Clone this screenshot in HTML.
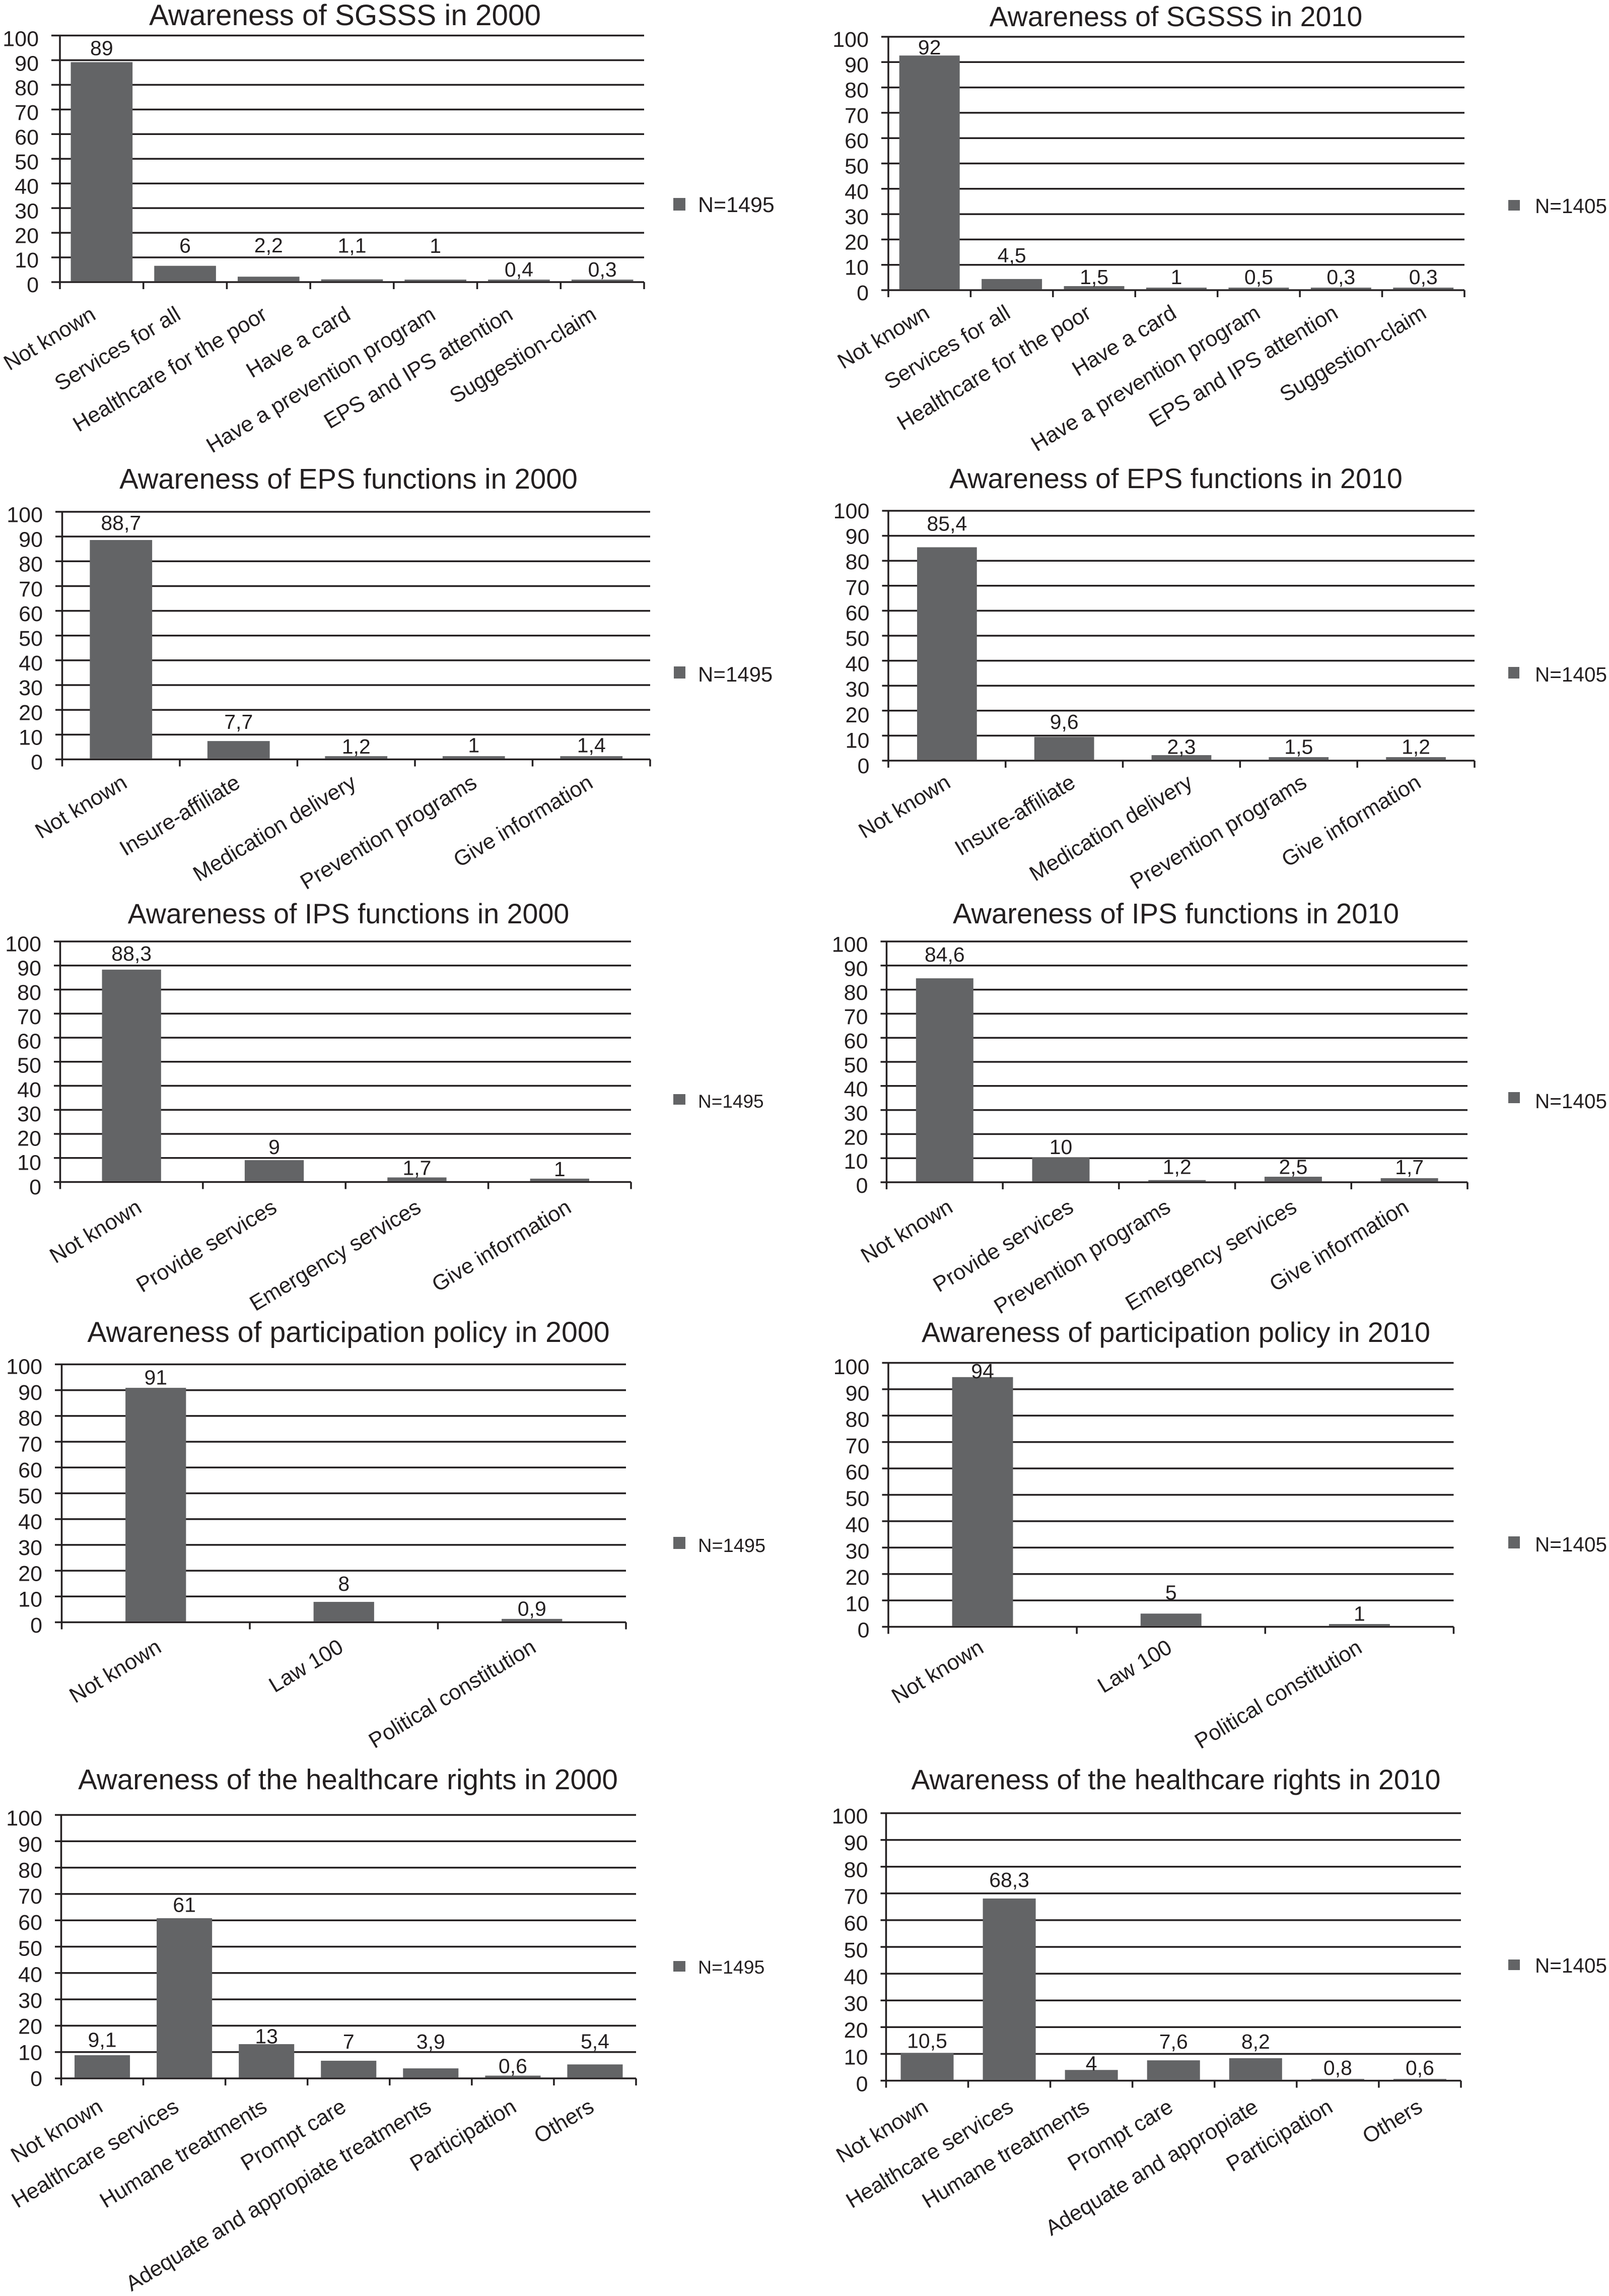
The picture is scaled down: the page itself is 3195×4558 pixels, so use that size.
<!DOCTYPE html>
<html lang="en">
<head>
<meta charset="utf-8">
<title>Awareness charts 2000 and 2010</title>
<style>
html,body{margin:0;padding:0;background:#fff;}
svg{display:block;font-family:"Liberation Sans",Arial,sans-serif;fill:#231f20;}
.title{text-anchor:middle;}
.tick-label{font-size:43px;text-anchor:end;}
.value-label{font-size:41px;text-anchor:middle;}
.category-label{font-size:43px;text-anchor:end;}
.swatch{fill:#636466;}
</style>
</head>
<body>
<svg xmlns="http://www.w3.org/2000/svg" width="3195" height="4558" viewBox="0 0 3195 4558">
<rect x="0" y="0" width="3195" height="4558" fill="#ffffff"></rect>

<g id="c1">
<text class="title" x="685" y="50" font-size="58.4">Awareness of SGSSS in 2000</text>
<rect class="swatch" x="1337" y="393" width="24" height="25"></rect>
<text x="1386" y="421" font-size="43">N=1495</text>
</g>

<g id="c2">
<text class="title" x="2335" y="52" font-size="55.6">Awareness of SGSSS in 2010</text>
<rect class="swatch" x="2995" y="397" width="23" height="21"></rect>
<text x="3048" y="423" font-size="40.5">N=1405</text>
</g>

<g id="c3">
<text class="title" x="692" y="970" font-size="56.3">Awareness of EPS functions in 2000</text>
<rect class="swatch" x="1338" y="1323" width="23" height="24"></rect>
<text x="1386" y="1353" font-size="42">N=1495</text>
</g>

<g id="c4">
<text class="title" x="2335" y="969" font-size="55.7">Awareness of EPS functions in 2010</text>
<rect class="swatch" x="2995" y="1324" width="22" height="23"></rect>
<text x="3048" y="1353" font-size="40.5">N=1405</text>
</g>

<g id="c5">
<text class="title" x="692" y="1833" font-size="55.6">Awareness of IPS functions in 2000</text>
<rect class="swatch" x="1337" y="2172" width="24" height="21"></rect>
<text x="1386" y="2199" font-size="37">N=1495</text>
</g>

<g id="c6">
<text class="title" x="2335" y="1833" font-size="56.2">Awareness of IPS functions in 2010</text>
<rect class="swatch" x="2995" y="2168" width="23" height="22"></rect>
<text x="3048" y="2200" font-size="40.5">N=1405</text>
</g>

<g id="c7">
<text class="title" x="692" y="2664" font-size="57.3">Awareness of participation policy in 2000</text>
<rect class="swatch" x="1337" y="3051" width="24" height="24"></rect>
<text x="1386" y="3081" font-size="38">N=1495</text>
</g>

<g id="c8">
<text class="title" x="2335" y="2664" font-size="55.8">Awareness of participation policy in 2010</text>
<rect class="swatch" x="2995" y="3050" width="23" height="24"></rect>
<text x="3048" y="3080" font-size="40.5">N=1405</text>
</g>

<g id="c9">
<text class="title" x="691" y="3552" font-size="56.6">Awareness of the healthcare rights in 2000</text>
<rect class="swatch" x="1337" y="3893" width="24" height="21"></rect>
<text x="1386" y="3918" font-size="37.5">N=1495</text>
</g>

<g id="c10">
<text class="title" x="2335" y="3552" font-size="55.5">Awareness of the healthcare rights in 2010</text>
<rect class="swatch" x="2995" y="3890" width="23" height="21"></rect>
<text x="3048" y="3916" font-size="40.5">N=1405</text>
</g>
</svg>

<script>
// Shared axis ticks
const yTicks = [0, 10, 20, 30, 40, 50, 60, 70, 80, 90, 100];

const sgsssCategories2000 = ["Not known", "Services for all", "Healthcare for the poor", "Have a card", "Have a prevention program", "EPS and IPS attention", "Suggestion-claim"];
const sgsssValues2000 = [89.2, 6.6, 2.2, 1.1, 1, 1, 1];
const sgsssPrinted2000 = ["89", "6", "2,2", "1,1", "1", "0,4", "0,3"];

const sgsssCategories2010 = ["Not known", "Services for all", "Healthcare for the poor", "Have a card", "Have a prevention program", "EPS and IPS attention", "Suggestion-claim"];
const sgsssValues2010 = [92.6, 4.4, 1.6, 1, 1, 1, 1];
const sgsssPrinted2010 = ["92", "4,5", "1,5", "1", "0,5", "0,3", "0,3"];

const epsCategories2000 = ["Not known", "Insure-affiliate", "Medication delivery", "Prevention programs", "Give information"];
const epsValues2000 = [88.6, 7.4, 1.3, 1.3, 1.3];
const epsPrinted2000 = ["88,7", "7,7", "1,2", "1", "1,4"];

const epsCategories2010 = ["Not known", "Insure-affiliate", "Medication delivery", "Prevention programs", "Give information"];
const epsValues2010 = [85.4, 9.5, 2.2, 1.4, 1.4];
const epsPrinted2010 = ["85,4", "9,6", "2,3", "1,5", "1,2"];

const ipsCategories2000 = ["Not known", "Provide services", "Emergency services", "Give information"];
const ipsValues2000 = [88.3, 9.1, 1.9, 1.4];
const ipsPrinted2000 = ["88,3", "9", "1,7", "1"];

const ipsCategories2010 = ["Not known", "Provide services", "Prevention programs", "Emergency services", "Give information"];
const ipsValues2010 = [84.7, 10.2, 0.9, 2.3, 1.7];
const ipsPrinted2010 = ["84,6", "10", "1,2", "2,5", "1,7"];

const policyCategories2000 = ["Not known", "Law 100", "Political constitution"];
const policyValues2000 = [90.9, 7.9, 1.3];
const policyPrinted2000 = ["91", "8", "0,9"];

const policyCategories2010 = ["Not known", "Law 100", "Political constitution"];
const policyValues2010 = [94.6, 5, 1.05];
const policyPrinted2010 = ["94", "5", "1"];

const rightsCategories2000 = ["Not known", "Healthcare services", "Humane treatments", "Prompt care", "Adequate and appropiate treatments", "Participation", "Others"];
const rightsValues2000 = [8.8, 60.8, 13, 6.7, 3.8, 1.05, 5.3];
const rightsPrinted2000 = ["9,1", "61", "13", "7", "3,9", "0,6", "5,4"];

const rightsCategories2010 = ["Not known", "Healthcare services", "Humane treatments", "Prompt care", "Adequate and appropiate", "Participation", "Others"];
const rightsValues2010 = [10.4, 68.1, 4, 7.6, 8.4, 0.65, 0.65];
const rightsPrinted2010 = ["10,5", "68,3", "4", "7,6", "8,2", "0,8", "0,6"];

const SVG_NS = "http://www.w3.org/2000/svg";
const LINE_COLOR = "#231f20";
const BAR_COLOR = "#636466";
const LINE_WIDTH = 3.5;
const TICK_LENGTH = 14;
const LABEL_ANGLE = -31;
const TICK_TEXT_HALF_HEIGHT = 15;

function drawChart(groupId, categories, values, printed, box) {
  const group = document.getElementById(groupId);
  const y = function (v) { return box.base - (v / 100) * (box.base - box.top); };
  const band = (box.right - box.left) / categories.length;
  const xCenter = function (i) { return box.left + (i + 0.5) * band; };

  yTicks.forEach(function (t) {
    const line = document.createElementNS(SVG_NS, "line");
    line.setAttribute("x1", box.gridLeft);
    line.setAttribute("x2", box.right);
    line.setAttribute("y1", y(t));
    line.setAttribute("y2", y(t));
    line.setAttribute("stroke", LINE_COLOR);
    line.setAttribute("stroke-width", LINE_WIDTH);
    
    
    group.appendChild(line);

    const shift = box.tickShift[0] + (box.tickShift[1] - box.tickShift[0]) * t / 100;
    const label = document.createElementNS(SVG_NS, "text");
    label.setAttribute("class", "tick-label");
    label.setAttribute("x", box.gridLeft - 25);
    label.setAttribute("y", y(t) + shift + TICK_TEXT_HALF_HEIGHT);
    label.textContent = String(t);
    
    
    group.appendChild(label);
  });

  const axis = document.createElementNS(SVG_NS, "line");
  axis.setAttribute("x1", box.left);
  axis.setAttribute("x2", box.left);
  axis.setAttribute("y1", box.top);
  axis.setAttribute("y2", box.base + TICK_LENGTH);
  axis.setAttribute("stroke", LINE_COLOR);
  axis.setAttribute("stroke-width", LINE_WIDTH);
  
  
  group.appendChild(axis);

  for (let i = 1; i <= categories.length; i++) {
    const tick = document.createElementNS(SVG_NS, "line");
    tick.setAttribute("x1", box.left + i * band);
    tick.setAttribute("x2", box.left + i * band);
    tick.setAttribute("y1", box.base);
    tick.setAttribute("y2", box.base + TICK_LENGTH);
    tick.setAttribute("stroke", LINE_COLOR);
    tick.setAttribute("stroke-width", LINE_WIDTH);
    
    
    group.appendChild(tick);
  }

  categories.forEach(function (category, i) {
    const barWidth = band * box.barRatio;
    const bar = document.createElementNS(SVG_NS, "rect");
    bar.setAttribute("x", xCenter(i) - barWidth / 2);
    bar.setAttribute("y", y(values[i]));
    bar.setAttribute("width", barWidth);
    bar.setAttribute("height", box.base - y(values[i]) - LINE_WIDTH / 2);
    bar.setAttribute("fill", BAR_COLOR);
    
    
    group.appendChild(bar);

    const valueLabel = document.createElementNS(SVG_NS, "text");
    valueLabel.setAttribute("class", "value-label");
    valueLabel.setAttribute("x", xCenter(i));
    valueLabel.setAttribute("y", y(values[i]) - box.lift[i]);
    valueLabel.textContent = printed[i];
    
    
    group.appendChild(valueLabel);

    const catLabel = document.createElementNS(SVG_NS, "text");
    const ax = xCenter(i) + box.catDx + box.catNudge[i];
    const ay = box.base + box.catDy;
    catLabel.setAttribute("class", "category-label");
    catLabel.setAttribute("x", ax);
    catLabel.setAttribute("y", ay);
    catLabel.setAttribute("transform", "rotate(" + LABEL_ANGLE + " " + ax + " " + ay + ")");
    catLabel.textContent = category;
    
    
    group.appendChild(catLabel);
  });
}

drawChart("c1", sgsssCategories2000, sgsssValues2000, sgsssPrinted2000,
  {left: 119, right: 1279, top: 70.5, base: 560, gridLeft: 102, barRatio: 0.74, catDx: -6, catDy: 72, tickShift: [5, 6], catNudge: [-3, 0, 6, 6, 9, -3, -3], lift: [14, 26, 48, 53, 53, 6, 6]});
drawChart("c2", sgsssCategories2010, sgsssValues2010, sgsssPrinted2010,
  {left: 1764, right: 2908, top: 73, base: 576, gridLeft: 1750, barRatio: 0.734, catDx: 3, catDy: 53, tickShift: [5, 5], catNudge: [0, -3, -6, 0, 3, -6, 6], lift: [2, 33, 4, 7, 7, 7, 7]});
drawChart("c3", epsCategories2000, epsValues2000, epsPrinted2000,
  {left: 123.5, right: 1291, top: 1016, base: 1507.5, gridLeft: 110, barRatio: 0.53, catDx: 12, catDy: 54, tickShift: [5, 5.5], catNudge: [3, -6, -9, -3, -6], lift: [20, 24, 5, 7.5, 7.5]});
drawChart("c4", epsCategories2010, epsValues2010, epsPrinted2010,
  {left: 1764, right: 2928, top: 1014, base: 1510, gridLeft: 1751.5, barRatio: 0.51, catDx: 13, catDy: 51, tickShift: [10, 0], catNudge: [-3, 12, 12, 6, 0], lift: [33, 16, 2.5, 6.5, 6.5]});
drawChart("c5", ipsCategories2000, ipsValues2000, ipsPrinted2000,
  {left: 119.5, right: 1253, top: 1869, base: 2346.5, gridLeft: 107, barRatio: 0.414, catDx: 20, catDy: 58, tickShift: [9.3, 4.4], catNudge: [3, -12, -9, 6], lift: [18, 12, 5, 4.7]});
drawChart("c6", ipsCategories2010, ipsValues2010, ipsPrinted2010,
  {left: 1760.5, right: 2914, top: 1869, base: 2347, gridLeft: 1748.5, barRatio: 0.494, catDx: 22, catDy: 57, tickShift: [6, 5.5], catNudge: [-3, 6, -32, -12, -20], lift: [33, 7, 12, 5.5, 8]});
drawChart("c7", policyCategories2000, policyValues2000, policyPrinted2000,
  {left: 122.5, right: 1243, top: 2708.5, base: 3220.5, gridLeft: 109, barRatio: 0.322, catDx: 8, catDy: 57, tickShift: [5.5, 4], catNudge: [6, -6, 3], lift: [6.5, 22, 6.5]});
drawChart("c8", policyCategories2010, policyValues2010, policyPrinted2010,
  {left: 1764, right: 2886.5, top: 2705.5, base: 3229.5, gridLeft: 1751.5, barRatio: 0.323, catDx: 5, catDy: 49, tickShift: [6, 7.7], catNudge: [0, 0, 3], lift: [-2, 28, 6.5]});
drawChart("c9", rightsCategories2000, rightsValues2000, rightsPrinted2000,
  {left: 121.5, right: 1263, top: 3603, base: 4126, gridLeft: 109, barRatio: 0.675, catDx: -2, catDy: 64, tickShift: [0, 6.2], catNudge: [6, -6, 6, 0, 6, 12, 3], lift: [16.5, 12.5, 1.5, 24, 39, 5, 32]});
drawChart("c10", rightsCategories2010, rightsValues2010, rightsPrinted2010,
  {left: 1759.5, right: 2901, top: 3599.5, base: 4130.5, gridLeft: 1748.5, barRatio: 0.644, catDx: 5, catDy: 60, tickShift: [6, 5.5], catNudge: [0, 6, -6, -3, 3, -12, 3], lift: [10, 23, -1, 23, 19, 8, 8]});
</script>
</body>
</html>
